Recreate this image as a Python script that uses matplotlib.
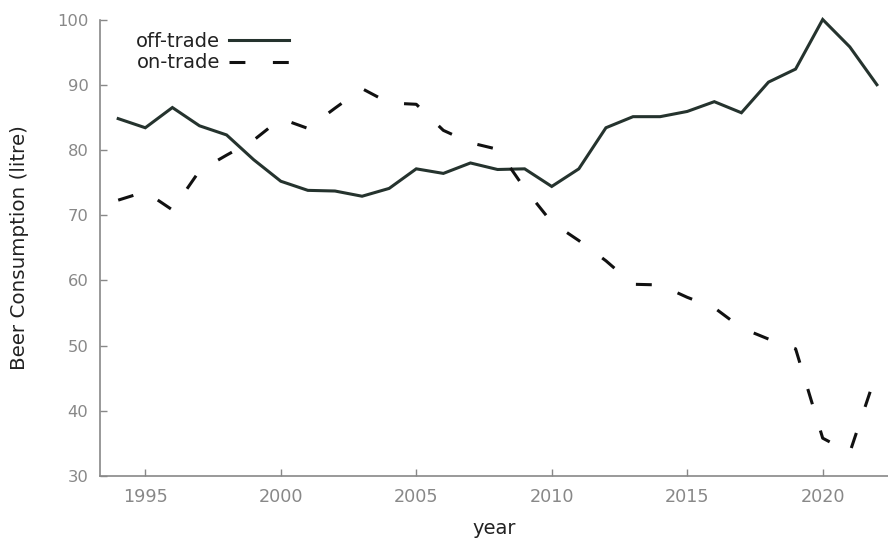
import matplotlib
matplotlib.use("Agg")
import matplotlib.pyplot as plt

years = list(range(1994, 2023))
off_trade = [84.8, 83.4, 86.5, 83.7, 82.3, 78.5, 75.2, 73.8, 73.7, 72.9,
             74.1, 77.1, 76.4, 78.0, 77.0, 77.1, 74.4, 77.1, 83.4, 85.1,
             85.1, 85.9, 87.4, 85.7, 90.4, 92.4, 100.0, 95.8, 90.0]
on_trade = [72.3, 73.6, 70.8, 76.8, 79.2, 81.5, 84.8, 83.3, 86.4, 89.4,
            87.2, 87.0, 83.0, 81.1, 80.1, 74.1, 68.9, 66.1, 63.0, 59.4,
            59.3, 57.4, 55.8, 52.7, 51.0, 49.5, 35.8, 33.6, 46.0]
x_ticks = [1995, 2000, 2005, 2010, 2015, 2020]
y_ticks = [30, 40, 50, 60, 70, 80, 90, 100]

fig = plt.figure(figsize=(8.88, 5.41), dpi=100)
ax = fig.add_axes([99.5 / 888, 65 / 541, 788.5 / 888, 456.5 / 541])

ax.plot(years, off_trade, color="#25332e", lw=2.2, label="off-trade",
        solid_joinstyle="miter", clip_on=False)
ax.plot(years, on_trade, color="#111111", lw=2.2, label="on-trade",
        linestyle=(0, (5.2, 9.0)), clip_on=False)

ax.set_xlim(1993.31, 2022.41)
ax.set_ylim(30, 100)
ax.set_xticks(x_ticks)
ax.set_yticks(y_ticks)

for side in ["top", "right"]:
    ax.spines[side].set_visible(False)
for side in ["left", "bottom"]:
    ax.spines[side].set_color("#888888")
    ax.spines[side].set_linewidth(1.2)

ax.tick_params(direction="in", length=5, width=1, color="#888888",
               labelcolor="#888888", pad=8)
ax.tick_params(axis="x", labelsize=12.7, pad=9)
ax.tick_params(axis="y", labelsize=11.8)

ax.set_xlabel("year", fontsize=14, color="#222222", labelpad=9)
ax.set_ylabel("Beer Consumption (litre)", fontsize=14.3, color="#222222")
ax.yaxis.set_label_coords(-0.089, 0.5)

ax.legend(loc="upper left", bbox_to_anchor=(0.024, 1.012), frameon=False,
          markerfirst=False, fontsize=14, handlelength=3.1, handletextpad=0.45,
          labelspacing=0.15, labelcolor="#222222")

fig.savefig("out.png", dpi=100)
